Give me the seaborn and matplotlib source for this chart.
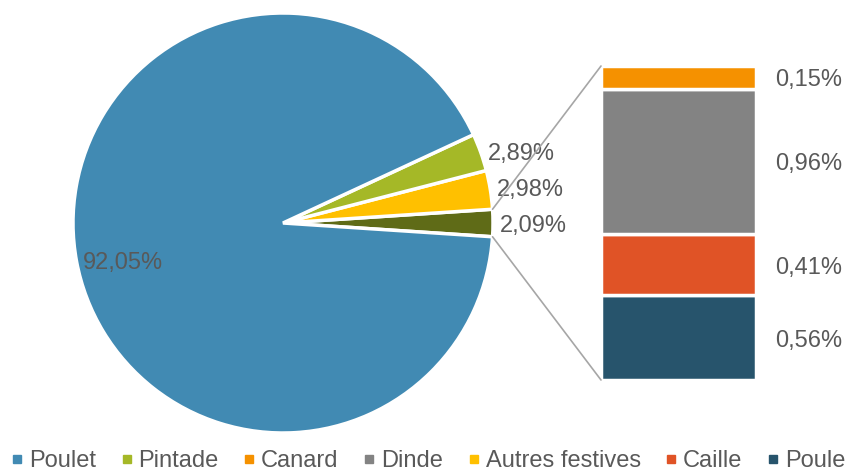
"""
Camembert avec barre de détail (bar-of-pie) : répartition des volailles.
"""

import numpy as np
import matplotlib
matplotlib.use("Agg")
import matplotlib.pyplot as plt
from matplotlib.patches import ConnectionPatch
from matplotlib.lines import Line2D
import seaborn as sns

# Données du camembert (sens trigonométrique, en partant de la part "autres")
pie_labels = ["Autres", "Autres festives", "Pintade", "Poulet"]
pie_values = [2.09, 2.98, 2.89, 92.05]
pie_colors = ["#5F6B17", "#FFC000", "#A5B827", "#418AB3"]

# Données de la barre (de bas en haut)
bar_labels = ["Poule", "Caille", "Dinde", "Canard"]
bar_values = [0.56, 0.41, 0.96, 0.15]
bar_colors = ["#27546C", "#E05326", "#838383", "#F59100"]

# Ordre de la légende
legend_labels = ["Poulet", "Pintade", "Canard", "Dinde", "Autres festives", "Caille", "Poule"]
legend_colors = ["#418AB3", "#A5B827", "#F59100", "#838383", "#FFC000", "#E05326", "#27546C"]

sns.set_theme(style="white")
plt.rcParams['font.family'] = ['Liberation Sans', 'DejaVu Sans']
TXT = "#595959"
FS = 17


def fmt(v):
    return f"{v:.2f}".replace(".", ",") + "%"


W, H = 863, 473
fig = plt.figure(figsize=(W / 100, H / 100), dpi=100)

# Camembert : centre (283, 223) px, rayon 210 px
cx, cy, R = 283, 223, 210
ax_pie = fig.add_axes([(cx - R) / W, (H - cy - R) / H, 2 * R / W, 2 * R / H])
half = pie_values[0] / sum(pie_values) * 360 / 2
wedges, _ = ax_pie.pie(
    pie_values, colors=pie_colors, startangle=-half, counterclock=True,
    radius=1, wedgeprops=dict(edgecolor="white", linewidth=2.5)
)
ax_pie.set_xlim(-1, 1)
ax_pie.set_ylim(-1, 1)
ax_pie.set_aspect("equal")
ax_pie.axis("off")

# Étiquettes du camembert
label_pos = {
    "Autres": (1.19, -0.015),
    "Autres festives": (1.18, 0.155),
    "Pintade": (1.135, 0.33),
    "Poulet": (-0.76, -0.19),
}
for lab, val in zip(pie_labels, pie_values):
    x, y = label_pos[lab]
    ax_pie.text(x, y, fmt(val), ha="center", va="center", fontsize=FS, color=TXT)

# Barre de détail : x 601-756 px, y 66-380 px
bx0, bx1, by0, by1 = 601, 756, 66, 380
ax_bar = fig.add_axes([bx0 / W, (H - by1) / H, (bx1 - bx0) / W, (by1 - by0) / H])
bottom = 0
for lab, val, col in zip(bar_labels, bar_values, bar_colors):
    ax_bar.bar(0, val, width=1, bottom=bottom, color=col,
               edgecolor="white", linewidth=2.5)
    ax_bar.annotate(fmt(val), xy=(0.5, bottom + val / 2), xytext=(13.5, -2.2),
                    textcoords="offset points", ha="left", va="center",
                    fontsize=FS, color=TXT, annotation_clip=False)
    bottom += val
total = sum(bar_values)
ax_bar.set_xlim(-0.5, 0.5)
ax_bar.set_ylim(0, total)
ax_bar.axis("off")

# Lignes de liaison
a = np.radians(half)
for (px, py), (qx, qy) in [((np.cos(a), np.sin(a)), (-0.5, total)),
                            ((np.cos(a), -np.sin(a)), (-0.5, 0))]:
    con = ConnectionPatch(xyA=(qx, qy), coordsA=ax_bar.transData,
                          xyB=(px, py), coordsB=ax_pie.transData,
                          color="#A6A6A6", linewidth=1.2)
    fig.add_artist(con)

# Légende
handles = [Line2D([], [], marker="s", linestyle="none", markersize=6,
                  markerfacecolor=c, markeredgecolor=c) for c in legend_colors]
fig.legend(handles, legend_labels, loc="lower left", bbox_to_anchor=(10 / W, 0.0),
           ncol=len(legend_labels), frameon=False, fontsize=FS,
           handlelength=0.5, handletextpad=0.25, columnspacing=1.05,
           borderaxespad=0, borderpad=0.05, labelcolor=TXT)

fig.savefig("out.png", dpi=100)
